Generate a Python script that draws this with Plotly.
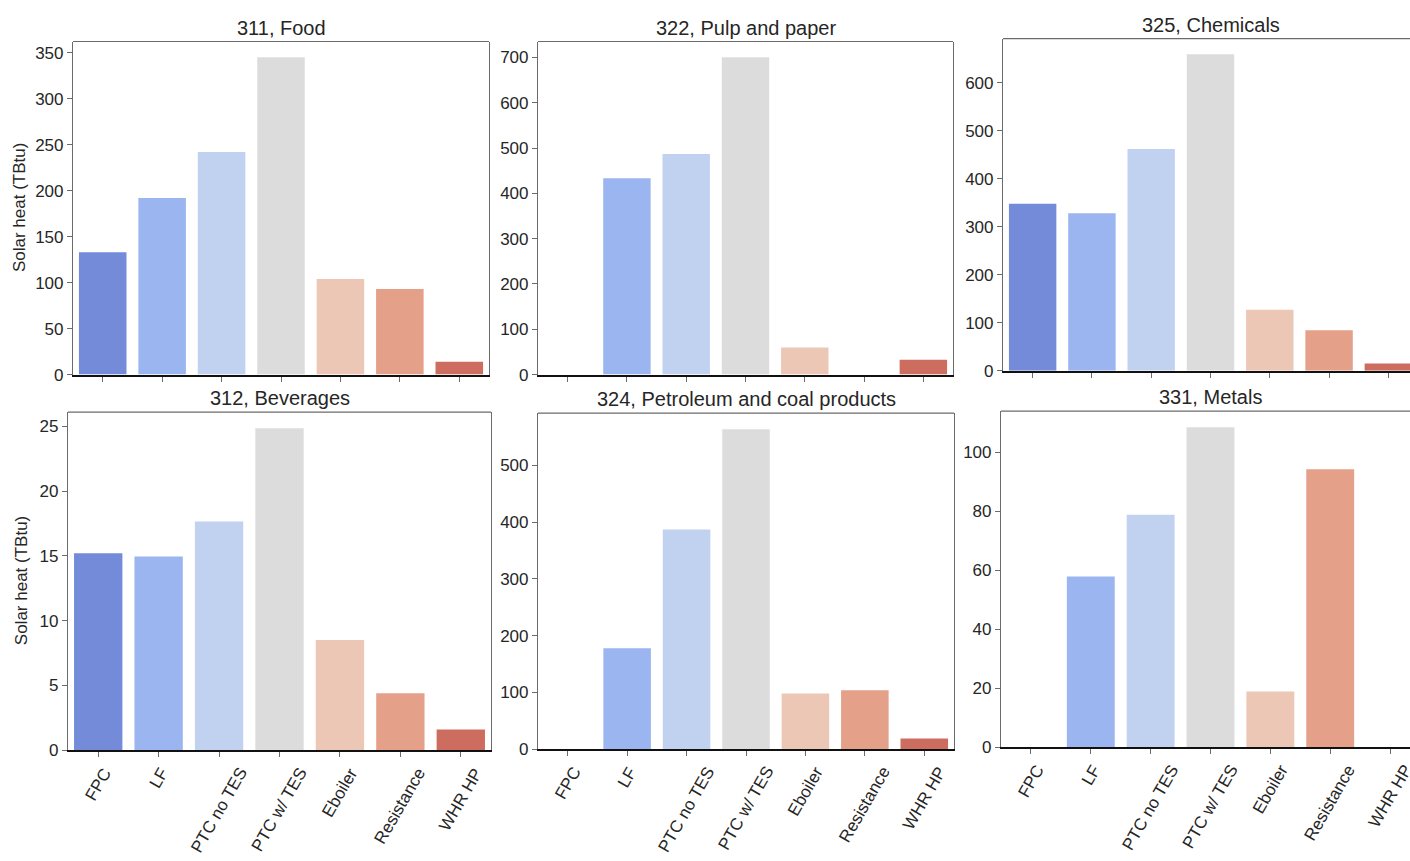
import plotly.graph_objects as go

# Technology categories shown on every panel
categories = ["FPC", "LF", "PTC no TES", "PTC w/ TES", "Eboiler", "Resistance", "WHR HP"]

# Solar heat by technology (TBtu), one list per industry
food = [133, 192, 242, 345, 104, 93, 14]
pulp_paper = [0, 433, 487, 700, 60, 0, 33]
chemicals = [348, 328, 462, 659, 127, 84, 15]
beverages = [15.2, 14.95, 17.65, 24.85, 8.5, 4.4, 1.6]
petroleum_coal = [0, 178, 387, 564, 98, 104, 19]
metals = [0, 57.9, 78.9, 108.6, 18.9, 94.3, 0]

panel_titles = [
    "311, Food", "322, Pulp and paper", "325, Chemicals",
    "312, Beverages", "324, Petroleum and coal products", "331, Metals",
]
panel_values = [food, pulp_paper, chemicals, beverages, petroleum_coal, metals]
y_dticks = [50, 100, 100, 5, 100, 20]

# coolwarm palette (desaturated as in seaborn bar plots)
palette = ["#738bd9", "#9bb5f0", "#c1d2f1", "#dcdcdc", "#ecc7b5", "#e5a089", "#cc6d5f"]

W, H = 1410, 861
FONT = "Liberation Sans, Arial, Helvetica, sans-serif"
TEXT = "#262626"
FRAME = "#6b6b6b"

# Panel boxes in pixels: (left, right, top, bottom)
boxes = [
    (73, 489, 42, 379), (538, 953, 42, 379), (1003, 1418, 39, 375),
    (68, 491, 417, 759), (538, 954, 418, 758), (1001, 1420, 416, 756),
]

fig = go.Figure()
layout = dict(
    width=W, height=H, margin=dict(l=0, r=0, t=0, b=0),
    paper_bgcolor="white", plot_bgcolor="white",
    showlegend=False, bargap=0.2,
    font=dict(family=FONT, size=17, color=TEXT),
)
annotations = []
shapes = []

for i, (title, vals) in enumerate(zip(panel_titles, panel_values)):
    n = i + 1
    xa = "x" if n == 1 else f"x{n}"
    ya = "y" if n == 1 else f"y{n}"
    left, right, top, bottom = boxes[i]
    clipped = right > W
    x_dom = [left / W, min(right, W) / W]
    y_dom = [1 - bottom / H, 1 - top / H]
    # visible category span (right column is cut at the page edge)
    span = 7 * (min(right, W) - left) / (right - left)
    x_range = [-0.5, -0.5 + span]
    ymax = max(vals) * 1.05
    bottom_row = i >= 3

    fig.add_trace(go.Bar(
        x=categories, y=vals, xaxis=xa, yaxis=ya,
        marker=dict(color=palette, line=dict(width=0)),
        width=0.8, hoverinfo="x+y",
    ))

    layout[f"xaxis{'' if n == 1 else n}"] = dict(
        domain=x_dom, anchor=ya, type="category",
        categoryorder="array", categoryarray=categories,
        range=x_range, showgrid=False, zeroline=False,
        showline=True, linecolor="#111111", linewidth=2, mirror=False,
        ticks="outside", ticklen=5, tickwidth=1, tickcolor=FRAME,
        showticklabels=False, fixedrange=True,
    )
    layout[f"yaxis{'' if n == 1 else n}"] = dict(
        domain=y_dom, anchor=xa, range=[0, ymax],
        dtick=y_dticks[i], tick0=0, showgrid=False, zeroline=False,
        showline=True, linecolor=FRAME, linewidth=1.2, mirror=not clipped,
        ticks="outside", ticklen=5, tickwidth=1, tickcolor=FRAME,
        tickfont=dict(family=FONT, size=17, color=TEXT),
        fixedrange=True,
    )

    # top edge of the panel frame
    shapes.append(dict(
        type="line", xref=f"{xa} domain", yref=f"{ya} domain",
        x0=0, x1=1, y0=1, y1=1, line=dict(color=FRAME, width=1.2),
    ))

    # panel title
    annotations.append(dict(
        text=title, xref="paper", yref="paper",
        x=(left + right) / 2 / W, y=1 - (top - 1) / H,
        xanchor="center", yanchor="bottom", showarrow=False,
        font=dict(family=FONT, size=20, color=TEXT),
    ))

    # rotated category labels, centred under each tick
    if bottom_row:
        for cat in categories:
            annotations.append(dict(
                text=cat, xref=xa, x=cat, yref="paper", y=1 - (bottom + 12) / H,
                xanchor="center", yanchor="top", textangle=-60, showarrow=False,
                font=dict(family=FONT, size=17, color=TEXT),
            ))

# shared y-axis label on the left column
for top, bottom, xpos in [(42, 379, 19), (417, 759, 21)]:
    annotations.append(dict(
        text="Solar heat (TBtu)", xref="paper", yref="paper",
        x=xpos / W, y=1 - (top + bottom) / 2 / H,
        xanchor="center", yanchor="middle", textangle=-90, showarrow=False,
        font=dict(family=FONT, size=17, color=TEXT),
    ))

layout["annotations"] = annotations
layout["shapes"] = shapes
fig.update_layout(**layout)

fig.write_html("out.html")
